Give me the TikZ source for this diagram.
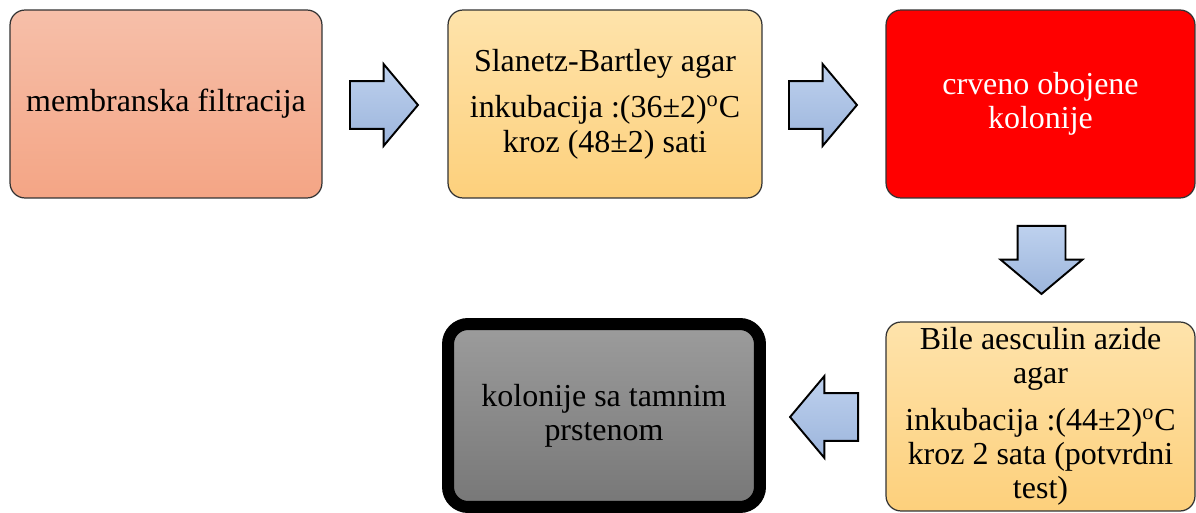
\documentclass[tikz,border=0pt]{standalone}
\usepackage{fontspec}
\setmainfont{Liberation Serif}
\usetikzlibrary{shapes.arrows}

\definecolor{salmonTop}{HTML}{F6BFA9}
\definecolor{salmonBot}{HTML}{F4A585}
\definecolor{agarTop}{HTML}{FEE3AB}
\definecolor{agarBot}{HTML}{FDD07C}
\definecolor{grayTop}{HTML}{9C9C9C}
\definecolor{grayBot}{HTML}{777777}
\definecolor{arrowTop}{HTML}{BED1EE}
\definecolor{arrowBot}{HTML}{9CB5DC}

\begin{document}
\begin{tikzpicture}[x=0.02cm, y=-0.02cm,
	box/.style={shape=rectangle, rounded corners=0.3cm, draw=black!80, line width=0.7pt, align=center, font=\fontsize{18.2}{19.5}\selectfont, minimum height=3.76cm, inner sep=0},
	blockarrow/.style={shape=single arrow, anchor=tail, draw=black, line width=1.1pt, top color=arrowTop, bottom color=arrowBot, inner sep=0, inner ysep=0.46cm, minimum height=1.36cm, single arrow head extend=0.34cm, single arrow tip angle=100}]
				\useasboundingbox (0,0) rectangle (1196,513);
				% top row
				\node[box, minimum width=6.24cm, top color=salmonTop, bottom color=salmonBot] (filt) at (166,104) {membranska filtracija};
				\node[box, minimum width=6.28cm, top color=agarTop, bottom color=agarBot] (sb) at (605,104) {Slanetz-Bartley agar\\[7pt] inkubacija :(36\textpm2)\textsuperscript{o}C\\ kroz (48\textpm2) sati};
				\node[box, minimum width=6.18cm, fill=red, text=white] (crv) at (1040.5,104) {crveno obojene\\ kolonije};
				% bottom row
				\node[box, minimum width=6.18cm, minimum height=3.78cm, top color=agarTop, bottom color=agarBot] (bea) at (1040.5,416.5) {Bile aesculin azide\\ agar\\[7pt] inkubacija :(44\textpm2)\textsuperscript{o}C\\ kroz 2 sata (potvrdni\\ test)};
				\node[box, minimum width=6.24cm, minimum height=3.66cm, rounded corners=0.4cm, draw=black, line width=0.24cm, top color=grayTop, bottom color=grayBot] (prst) at (604,415.5) {kolonije sa tamnim\\ prstenom};
				% arrows (placed by their tails)
				\node[blockarrow] (a1) at (349,105) {};
				\node[blockarrow] (a2) at (788,105) {};
				\node[blockarrow, rotate=-90] (a3) at (1041.5,225) {};
				\node[blockarrow, rotate=180] (a4) at (859,417) {};
			\end{tikzpicture}
\end{document}
